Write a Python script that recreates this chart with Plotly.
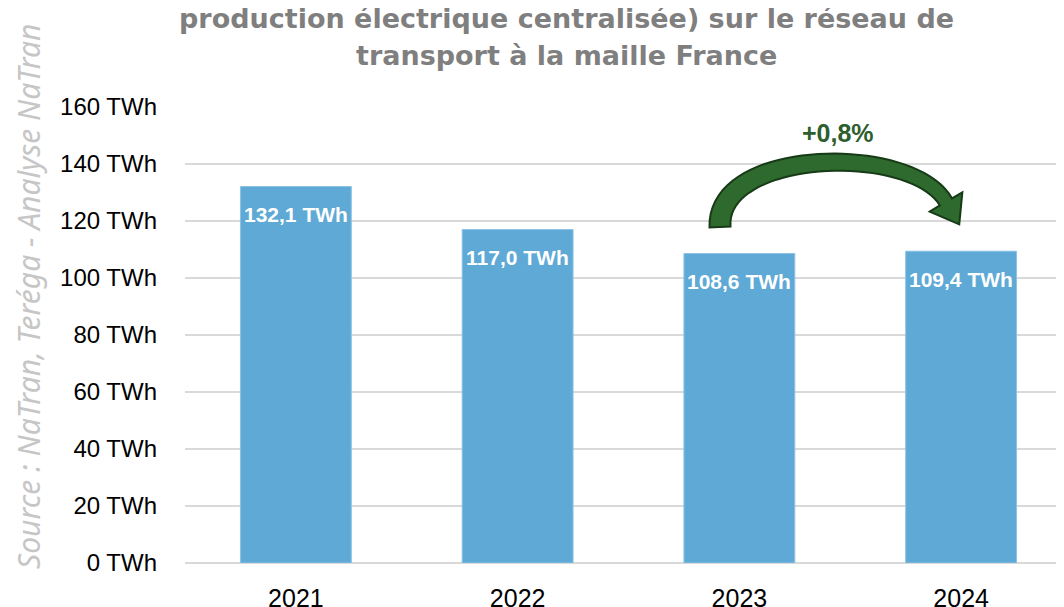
import plotly.graph_objects as go

# Données
annees = ["2021", "2022", "2023", "2024"]
valeurs_twh = [132.1, 117.0, 108.6, 109.4]
etiquettes = ["132,1 TWh", "117,0 TWh", "108,6 TWh", "109,4 TWh"]
ticks_y = [0, 20, 40, 60, 80, 100, 120, 140, 160]
ticks_y_txt = [f"{v} TWh" for v in ticks_y]
variation = "+0,8%"
titre_l1 = "production électrique centralisée) sur le réseau de"
titre_l2 = "transport à la maille France"
source = "Source : NaTran, Teréga - Analyse NaTran"

BLEU = "#5EA9D5"
VERT = "#2E6A2E"
VERT_FONCE = "#173A17"
GRIS_TITRE = "#7F7F7F"
GRILLE = "#D9D9D9"
POLICE = "Arial, Liberation Sans, sans-serif"
POLICE_TITRE = "DejaVu Sans, sans-serif"

# la page ajoute une marge de 8 px autour de la figure
OFF = 8
W, H = 1064, 607
M_L, M_R, M_T, M_B = 185 - OFF, 0, 107 - OFF, H - (563 - OFF)
X_RANGE = [-0.5, 3.5]
Y_RANGE = [0, 160]
PW, PH = W - M_L - M_R, H - M_T - M_B


def px2paper(px, py):
    # px, py : pixels de l'écran (référence)
    return (px - OFF - M_L) / PW, (H - M_B - (py - OFF)) / PH


def px2data(px, py):
    xp, yp = px2paper(px, py)
    return (X_RANGE[0] + xp * (X_RANGE[1] - X_RANGE[0]),
            Y_RANGE[0] + yp * (Y_RANGE[1] - Y_RANGE[0]))


fig = go.Figure()
fig.add_trace(go.Bar(
    x=list(range(len(annees))), y=valeurs_twh,
    marker=dict(color=BLEU, line=dict(color="#8CC3E4", width=1)),
    width=0.5, hoverinfo="skip",
))

# étiquettes blanches dans les barres
for i, (v, txt) in enumerate(zip(valeurs_twh, etiquettes)):
    fig.add_annotation(x=i, y=v, text=f"<b>{txt}</b>", showarrow=False,
                       yshift=-28, font=dict(color="white", size=21, family=POLICE))


# flèche courbe (décor)
def bez(p0, c1, c2, p3, t):
    a = (1 - t) ** 3
    b = 3 * (1 - t) ** 2 * t
    c = 3 * (1 - t) * t ** 2
    d = t ** 3
    return (a * p0[0] + b * c1[0] + c * c2[0] + d * p3[0],
            a * p0[1] + b * c1[1] + c * c2[1] + d * p3[1])


P0, C1, C2, P3 = (720, 227), (716, 148), (912, 143), (946, 202)
n = 40
outer, inner = [], []
for k in range(n + 1):
    t = min(k / n, 0.999)
    x, y = bez(P0, C1, C2, P3, t)
    x2, y2 = bez(P0, C1, C2, P3, t + 0.001)
    dx, dy = x2 - x, y2 - y
    L = (dx ** 2 + dy ** 2) ** 0.5
    nx, ny = dy / L, -dx / L
    half = 10.5 - 3.5 * t
    outer.append((x - nx * half, y - ny * half))
    inner.append((x + nx * half, y + ny * half))

xe, ye = bez(P0, C1, C2, P3, 0.995)
dx, dy = P3[0] - xe, P3[1] - ye
L = (dx ** 2 + dy ** 2) ** 0.5
ux, uy = dx / L, dy / L
nx, ny = uy, -ux
wing1 = (P3[0] - nx * 19, P3[1] - ny * 19)
wing2 = (P3[0] + nx * 19, P3[1] + ny * 19)
tip = (P3[0] + ux * 26, P3[1] + uy * 26)

pts = outer + [wing1, tip, wing2] + inner[::-1]
pts_d = [px2data(a, b) for a, b in pts]
chemin = "M " + " L ".join(f"{a:.4f},{b:.4f}" for a, b in pts_d) + " Z"
fig.add_shape(type="path", path=chemin, xref="x", yref="y",
              fillcolor=VERT, line=dict(color=VERT_FONCE, width=2), layer="above")

xa, ya = px2paper(838, 133)
fig.add_annotation(x=xa, y=ya, xref="paper", yref="paper", text=f"<b>{variation}</b>",
                   showarrow=False, xanchor="center", yanchor="middle",
                   font=dict(color="#2D5E2D", size=25, family=POLICE))

# titre (deux lignes visibles)
for txt, py in [(titre_l1, 18), (titre_l2, 55)]:
    xa, ya = px2paper(566, py)
    fig.add_annotation(x=xa, y=ya, xref="paper", yref="paper", text=f"<b>{txt}</b>",
                       showarrow=False, xanchor="center", yanchor="middle",
                       font=dict(color=GRIS_TITRE, size=27, family=POLICE_TITRE))

# source verticale
xa, ya = px2paper(28, 571)
fig.add_annotation(x=xa, y=ya, xref="paper", yref="paper", xanchor="center", yanchor="bottom",
                   text=f"<i>{source}</i>", textangle=-90, showarrow=False,
                   font=dict(color="#C6C6C6", size=30, family="Noto Sans, sans-serif"))

fig.update_layout(
    width=W, height=H,
    margin=dict(l=M_L, r=M_R, t=M_T, b=M_B, pad=0, autoexpand=False),
    plot_bgcolor="white", paper_bgcolor="white",
    font=dict(family=POLICE, color="black"),
    showlegend=False,
    xaxis=dict(
        tickmode="array", tickvals=list(range(len(annees))), ticktext=annees,
        range=X_RANGE, showgrid=False, zeroline=False, showline=False, automargin=False,
        tickfont=dict(size=25, color="black"), ticks="", ticklabelstandoff=18,
    ),
    yaxis=dict(
        range=Y_RANGE, tickmode="array", tickvals=ticks_y, ticktext=ticks_y_txt,
        showgrid=True, gridcolor=GRILLE, gridwidth=1.5, automargin=False,
        zeroline=True, zerolinecolor=GRILLE, zerolinewidth=1.5,
        tickfont=dict(size=24, color="black"), ticks="", ticklabelstandoff=27,
    ),
)

fig.write_html("out.html")
